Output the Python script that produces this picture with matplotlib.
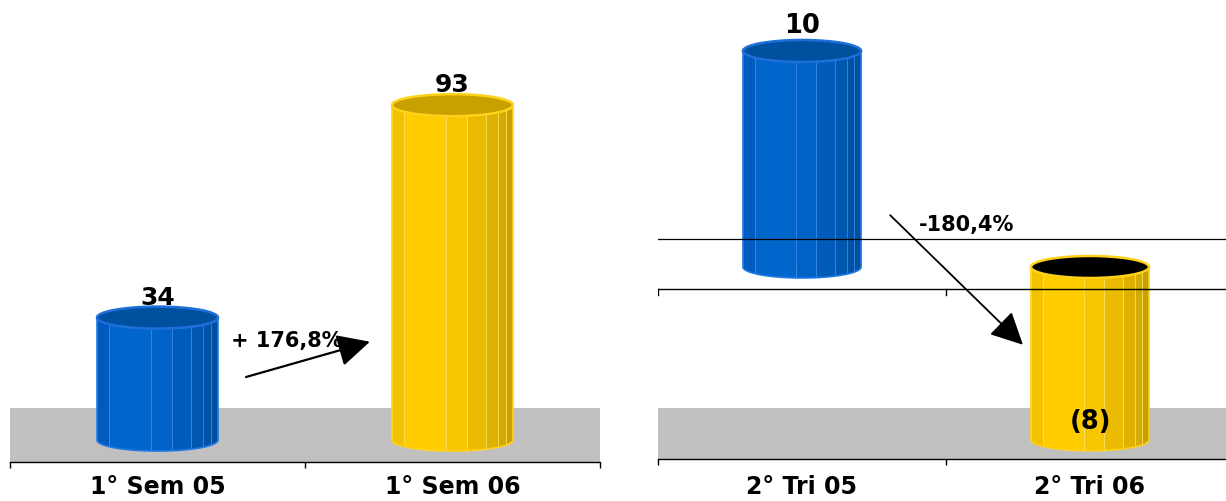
import matplotlib
matplotlib.use('Agg')
import matplotlib.pyplot as plt
from matplotlib.patches import Ellipse, Polygon, Rectangle
import numpy as np

# ---------------- data ----------------
left_categories = ['1° Sem 05', '1° Sem 06']
left_values = [34, 93]
left_labels = ['34', '93']
left_change = '+ 176,8%'

right_categories = ['2° Tri 05', '2° Tri 06']
right_values = [10, -8]
right_labels = ['10', '(8)']
right_change = '-180,4%'

# ---------------- styling ----------------
W, H = 1226, 501
FONT = 'DejaVu Sans'
plt.rcParams['font.family'] = [FONT]

blue_fracs = [0, 0.1, 0.45, 0.62, 0.78, 0.88, 0.94, 1.0]
blue_cols = ['#005ABF', '#0066CC', '#0062C6', '#005CBA', '#0057B0', '#0052A6', '#004E9E']
yel_fracs = [0, 0.1, 0.45, 0.62, 0.78, 0.88, 0.94, 1.0]
yel_cols = ['#F2C200', '#FFCC00', '#F7C600', '#EABB00', '#DEB100', '#D4A900', '#C8A000']

STYLE = {
    'blue': dict(fr=blue_fracs, cols=blue_cols, mid='#0062C6', edge='#1E78E6',
                 top='#0050A0', rim='#1E6FD9', line='#3F8AE8'),
    'yellow': dict(fr=yel_fracs, cols=yel_cols, mid='#F7C600', edge='#FFD21A',
                   top='#C8A000', rim='#FFD21A', line='#FFE066'),
}

fig = plt.figure(figsize=(W / 100, H / 100), dpi=100)


def px_axes(x0, x1, ybot, ytop=0):
    return [x0 / W, (H - ybot) / H, (x1 - x0) / W, (ybot - ytop) / H]


def y_per_px(ax, ybot_px, ytop_px=0):
    y0, y1 = ax.get_ylim()
    return (y1 - y0) / (ybot_px - ytop_px)


def cylinder(ax, x, v, width, eh, st):
    top = max(0, v)
    bot = min(0, v)
    xl, xr = x - width / 2, x + width / 2
    theta = np.linspace(np.pi, 2 * np.pi, 80)
    arc = np.column_stack([x + width / 2 * np.cos(theta), bot + eh / 2 * np.sin(theta)])
    verts = np.vstack([[xl, top], arc, [xr, top]])
    # main bar from the data
    ax.bar([x], [v], width=width, color=st['mid'], linewidth=0, zorder=2)
    clip = Polygon(verts, closed=True, transform=ax.transData)
    fr, cols = st['fr'], st['cols']
    for i, c in enumerate(cols):
        b = ax.bar([xl + fr[i] * width], [top - bot + eh], width=(fr[i + 1] - fr[i]) * width,
                   bottom=bot - eh, align='edge', color=c, edgecolor=st['line'],
                   linewidth=0.5, zorder=2.1)
        b[0].set_clip_path(clip)
    ax.add_patch(Polygon(verts, closed=True, fill=False, edgecolor=st['edge'], lw=1.2, zorder=2.2))
    face = st['top'] if v >= 0 else '#000000'
    ax.add_patch(Ellipse((x, top), width, eh, facecolor=face, edgecolor=st['rim'],
                         lw=1.8, zorder=2.3))


def setup_axis(ax, cats, ybot_px, floor_top_px, pad):
    for s in ['left', 'right', 'top']:
        ax.spines[s].set_visible(False)
    ax.spines['bottom'].set_linewidth(1.0)
    ax.set_yticks([])
    ax.set_xticks([-0.5, 0.5, 1.5])
    ax.set_xticklabels([])
    ax.tick_params(axis='x', which='major', direction='out', length=4.5, width=1)
    ax.set_xticks([0, 1], minor=True)
    ax.set_xticklabels(cats, minor=True, fontsize=17, fontweight='bold')
    ax.tick_params(axis='x', which='minor', length=0, pad=pad)
    ax.add_patch(Rectangle((0, 0), 1, (ybot_px - floor_top_px) / ybot_px, transform=ax.transAxes,
                           facecolor='#C0C0C0', edgecolor='none', zorder=0))
    ax.set_facecolor('none')


# ---------------- left panel ----------------
ax1 = fig.add_axes(px_axes(10, 600, 462))
ax1.set_xlim(-0.5, 1.5)
ax1.set_ylim(-6.1, 122.2)
setup_axis(ax1, left_categories, 462, 408, 9.5)
k1 = y_per_px(ax1, 462)
w = 0.41
for i, (v, col) in enumerate(zip(left_values, ['blue', 'yellow'])):
    cylinder(ax1, i, v, w, 22 * k1, STYLE[col])
    ax1.text(i, v + 13 * k1, left_labels[i], ha='center', va='baseline', fontsize=18,
             fontweight='bold', zorder=5)
ax1.annotate('', xy=(0.72, 27.3), xytext=(0.30, 17.5),
             arrowprops=dict(arrowstyle='-|>,head_length=1.0,head_width=0.5', color='black',
                             lw=1.6, mutation_scale=20, shrinkA=0, shrinkB=0), zorder=5)
ax1.text(0.44, 27.6, left_change, ha='center', va='center', fontsize=15, fontweight='bold', zorder=5)

# ---------------- right panel ----------------
ax2 = fig.add_axes(px_axes(658, 1234, 459))
ax2.set_xlim(-0.5, 1.5)
ax2.set_ylim(-8.89, 12.36)
setup_axis(ax2, right_categories, 459, 408, 11.5)
k2 = y_per_px(ax2, 459)
for i, (v, col) in enumerate(zip(right_values, ['blue', 'yellow'])):
    cylinder(ax2, i, v, w, 22 * k2, STYLE[col])
ax2.text(0, right_values[0] + 18 * k2, right_labels[0], ha='center', va='baseline',
         fontsize=18.5, fontweight='bold', zorder=5)
ax2.text(1, right_values[1] + 18 * k2, right_labels[1], ha='center', va='center',
         fontsize=18.5, fontweight='bold', zorder=5)
# zero-plane edges
y_back = 28 * k2
y_front = -22 * k2
ax2.axhline(y_back, color='black', lw=0.9, zorder=3)
ax2.axhline(y_front, color='black', lw=1.0, zorder=3)
for xt in [-0.5, 0.5, 1.5]:
    ax2.plot([xt, xt], [y_front, y_front - 6 * k2], color='black', lw=1.0, zorder=3)
ax2.annotate('', xy=(0.767, -3.6), xytext=(0.306, 2.4),
             arrowprops=dict(arrowstyle='-|>,head_length=1.0,head_width=0.5', color='black',
                             lw=1.3, mutation_scale=20, shrinkA=0, shrinkB=0), zorder=5)
ax2.text(0.57, 1.95, right_change, ha='center', va='center', fontsize=15, fontweight='bold', zorder=5)

fig.savefig('out.png', dpi=100, facecolor='white')
